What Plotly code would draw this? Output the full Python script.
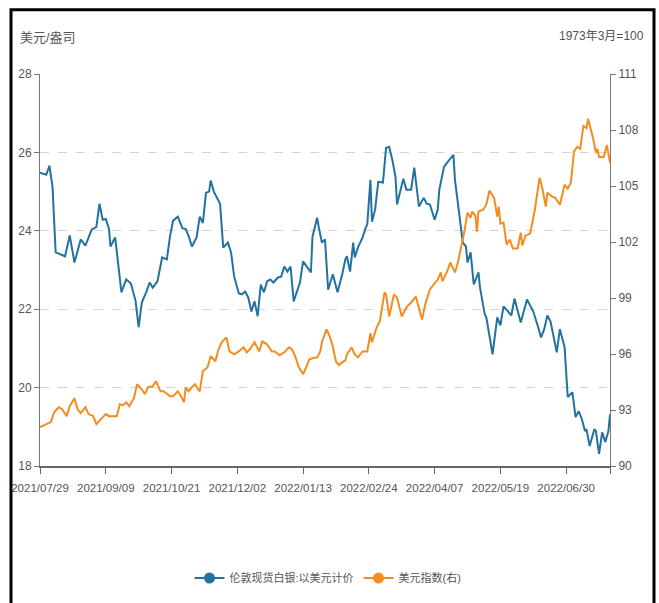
import pandas as pd
import plotly.graph_objects as go

START = "2021-07-29"

# London spot silver, USD/oz  (days since 2021-07-29, value)
silver_days = [0, 4, 6, 8, 10, 13, 16, 19, 22, 26, 29, 33, 36, 38, 40, 42, 44, 45, 48, 52,
               55, 58, 61, 63, 65, 68, 70, 72, 75, 78, 81, 83, 85, 88, 91, 93, 95, 97, 100, 102,
               104, 106, 108, 109, 111, 115, 117, 120, 122, 124, 127, 129, 131, 133, 135, 137, 139, 141, 143, 145,
               147, 149, 152, 154, 156, 158, 160, 162, 164, 166, 168, 171, 173, 174, 177, 178, 180, 182, 184, 187,
               190, 193, 195, 196, 198, 200, 201, 203, 206, 208, 209, 211, 212, 214, 216, 219, 221, 223, 225, 227,
               228, 232, 234, 237, 239, 242, 245, 247, 249, 252, 254, 255, 258, 260, 264, 265, 268, 270, 272, 273,
               275, 277, 280, 281, 284, 285, 289, 292, 294, 296, 299, 301, 303, 307, 311, 315, 318, 320, 322, 324,
               326, 330, 332, 335, 337, 340, 342, 344, 346, 348, 349, 351, 354, 355, 357, 359, 361, 363, 364]
silver_vals = [25.48, 25.43, 25.66, 25.12, 23.45, 23.40, 23.35, 23.88, 23.19, 23.78, 23.62, 24.03, 24.10, 24.69, 24.28, 24.30, 24.06, 23.60, 23.83, 22.43,
               22.76, 22.66, 22.22, 21.54, 22.17, 22.45, 22.68, 22.55, 22.71, 23.32, 23.27, 23.85, 24.26, 24.36, 24.06, 24.05, 23.86, 23.60, 23.83, 24.36,
               24.20, 24.97, 25.00, 25.28, 25.00, 24.69, 23.57, 23.70, 23.45, 22.83, 22.40, 22.38, 22.45, 22.30, 21.94, 22.20, 21.82, 22.63, 22.43, 22.71,
               22.76, 22.68, 22.81, 22.83, 23.09, 22.96, 23.09, 22.20, 22.43, 22.68, 23.22, 23.06, 22.94, 23.85, 24.33, 24.10, 23.70, 23.78, 22.50, 22.89,
               22.43, 22.89, 23.27, 23.35, 22.96, 23.70, 23.32, 23.57, 23.83, 24.08, 24.16, 25.30, 24.23, 24.54, 25.25, 25.23, 26.12, 26.14, 25.81, 25.38,
               24.67, 25.33, 25.05, 25.05, 25.61, 24.62, 24.84, 24.69, 24.67, 24.28, 24.54, 25.05, 25.63, 25.74, 25.94, 25.30, 24.36, 23.70, 23.60, 23.19,
               23.45, 22.63, 22.94, 22.55, 21.87, 21.79, 20.85, 21.79, 21.59, 22.07, 21.94, 21.84, 22.27, 21.66, 22.25, 21.94, 21.56, 21.28, 21.49, 21.84,
               21.69, 20.90, 21.49, 21.03, 19.76, 19.88, 19.25, 19.40, 19.20, 18.89, 18.94, 18.51, 18.94, 18.89, 18.31, 18.86, 18.61, 18.89, 19.32]

# US dollar index (right axis)
dxy_days = [0, 4, 7, 9, 12, 14, 17, 19, 22, 24, 26, 29, 31, 34, 36, 39, 42, 44, 47, 49,
            51, 53, 55, 57, 60, 62, 65, 67, 69, 72, 74, 77, 79, 83, 85, 88, 90, 92, 93, 95,
            97, 99, 101, 102, 104, 107, 109, 112, 114, 116, 119, 121, 124, 127, 130, 132, 134, 137, 140, 142,
            145, 148, 150, 153, 156, 159, 161, 163, 165, 168, 170, 172, 174, 177, 179, 180, 183, 185, 187, 189,
            191, 192, 195, 196, 199, 201, 203, 206, 209, 211, 212, 215, 217, 220, 221, 223, 226, 228, 231, 234,
            237, 240, 241, 244, 246, 249, 252, 254, 256, 257, 260, 262, 265, 267, 269, 271, 273, 275, 276, 278,
            279, 280, 283, 285, 287, 290, 292, 293, 294, 296, 298, 300, 302, 305, 307, 308, 310, 313, 316, 318,
            319, 321, 323, 324, 327, 329, 332, 335, 337, 339, 341, 343, 345, 347, 349, 350, 353, 355, 356, 357,
            360, 362, 363, 364]
dxy_vals = [92.08, 92.24, 92.35, 92.88, 93.15, 93.05, 92.67, 93.20, 93.63, 93.05, 92.83, 93.15, 92.78, 92.67, 92.24, 92.51, 92.78, 92.67, 92.67, 92.67,
            93.31, 93.26, 93.42, 93.20, 93.63, 94.38, 94.11, 93.85, 94.22, 94.27, 94.54, 94.00, 94.00, 93.74, 93.74, 94.00, 93.74, 93.42, 94.20, 94.00,
            94.22, 94.38, 94.11, 94.00, 95.08, 95.29, 95.88, 95.61, 96.25, 96.63, 96.89, 96.14, 95.98, 96.14, 96.36, 96.09, 96.25, 96.63, 96.14, 96.68,
            96.52, 96.14, 96.14, 95.93, 96.09, 96.36, 96.25, 95.88, 95.34, 94.92, 95.29, 95.72, 95.77, 95.82, 96.14, 96.63, 97.32, 96.95, 96.40, 95.60,
            95.40, 95.50, 95.66, 95.98, 96.36, 95.98, 95.82, 96.14, 96.14, 97.11, 96.63, 97.43, 97.75, 99.30, 99.19, 98.01, 99.19, 99.03, 98.01, 98.50,
            98.76, 99.08, 98.76, 97.85, 98.66, 99.46, 99.78, 99.99, 100.37, 99.89, 100.42, 100.90, 100.37, 100.95, 101.76, 102.56, 103.57, 103.30, 103.63, 103.41,
            102.56, 103.63, 103.73, 104.00, 104.75, 104.37, 103.36, 103.89, 102.98, 103.04, 101.86, 102.13, 101.65, 101.65, 102.50, 101.81, 102.34, 102.45, 103.73, 105.07,
            105.44, 104.80, 103.89, 104.64, 104.43, 104.37, 104.00, 105.07, 104.86, 105.18, 106.84, 107.10, 106.99, 108.22, 108.11, 108.60, 107.63, 106.78, 106.99, 106.56,
            106.56, 107.20, 106.78, 106.24]

tick_dates = ["2021-07-29", "2021-09-09", "2021-10-21", "2021-12-02", "2022-01-13",
              "2022-02-24", "2022-04-07", "2022-05-19", "2022-06-30", "2022-07-28"]
tick_texts = ["2021/07/29", "2021/09/09", "2021/10/21", "2021/12/02", "2022/01/13",
              "2022/02/24", "2022/04/07", "2022/05/19", "2022/06/30", ""]

left_ticks = [18, 20, 22, 24, 26, 28]
right_ticks = [90, 93, 96, 99, 102, 105, 108, 111]

name_silver = "伦敦现货白银:以美元计价"
name_dxy = "美元指数(右)"
unit_left = "美元/盎司"
unit_right = "1973年3月=100"

BLUE = "#23729f"
ORANGE = "#f68b1f"
FONT = "Liberation Sans, Noto Sans CJK SC, sans-serif"
TXT = "#555555"

start = pd.Timestamp(START)
silver_x = [start + pd.Timedelta(days=d) for d in silver_days]
dxy_x = [start + pd.Timedelta(days=d) for d in dxy_days]

fig = go.Figure()
fig.add_trace(go.Scatter(x=silver_x, y=silver_vals, mode="lines", name=name_silver,
                         line=dict(color=BLUE, width=2), showlegend=False))
fig.add_trace(go.Scatter(x=dxy_x, y=dxy_vals, mode="lines", name=name_dxy, yaxis="y2",
                         line=dict(color=ORANGE, width=2), showlegend=False))
# legend entries
fig.add_trace(go.Scatter(x=[None], y=[None], mode="lines+markers", name=name_silver,
                         line=dict(color=BLUE, width=2), marker=dict(size=11, color=BLUE)))
fig.add_trace(go.Scatter(x=[None], y=[None], mode="lines+markers", name=name_dxy,
                         line=dict(color=ORANGE, width=2), marker=dict(size=11, color=ORANGE)))

W, H = 659, 603
L, R, T, B = 40, 49, 74, 136
pw, ph = W - L - R, H - T - B

def px(x):
    return (x - L) / pw

def py(y):
    return (H - B - y) / ph

fig.update_layout(
    width=W, height=H,
    margin=dict(l=L, r=R, t=T, b=B),
    paper_bgcolor="white", plot_bgcolor="white",
    font=dict(family=FONT, size=11, color=TXT),
    xaxis=dict(type="date", range=[start, pd.Timestamp("2022-07-28")],
               tickvals=tick_dates, ticktext=tick_texts,
               showgrid=False, showline=True, linecolor="#666666", linewidth=1.5,
               ticks="outside", ticklen=6, tickcolor="#666666", zeroline=False,
               ticklabelstandoff=4,
               tickfont=dict(size=11.5, color=TXT)),
    yaxis=dict(range=[18, 28], tickvals=left_ticks, showline=True, linecolor="#777777",
               linewidth=1, ticks="outside", ticklen=5, tickcolor="#777777",
               showgrid=True, gridcolor="#d5d5d5", griddash="dash", gridwidth=1,
               zeroline=False, tickfont=dict(size=12, color=TXT)),
    yaxis2=dict(range=[90, 111], tickvals=right_ticks, overlaying="y", side="right",
                showline=True, linecolor="#777777", linewidth=1, ticks="outside",
                ticklen=5, tickcolor="#777777", showgrid=False, zeroline=False,
                tickfont=dict(size=12, color=TXT)),
    legend=dict(orientation="h", x=px(328), xanchor="center", y=py(578), yanchor="middle",
                font=dict(size=11, color=TXT), itemwidth=30,
                bgcolor="rgba(0,0,0,0)"),
    annotations=[
        dict(text=unit_left, xref="paper", yref="paper", x=px(18), y=py(37),
             xanchor="left", yanchor="middle", showarrow=False,
             font=dict(size=13, color=TXT)),
        dict(text=unit_right, xref="paper", yref="paper", x=px(646), y=py(36),
             xanchor="right", yanchor="middle", showarrow=False,
             font=dict(size=12, color=TXT)),
    ],
    shapes=[
        dict(type="rect", xref="paper", yref="paper", x0=px(11), x1=px(654),
             y0=py(640), y1=py(9.5), line=dict(color="black", width=3),
             fillcolor="rgba(0,0,0,0)", layer="above"),
    ],
)

fig.write_html("out.html", config={"displayModeBar": False},
               post_script="document.body.style.margin='0';")
